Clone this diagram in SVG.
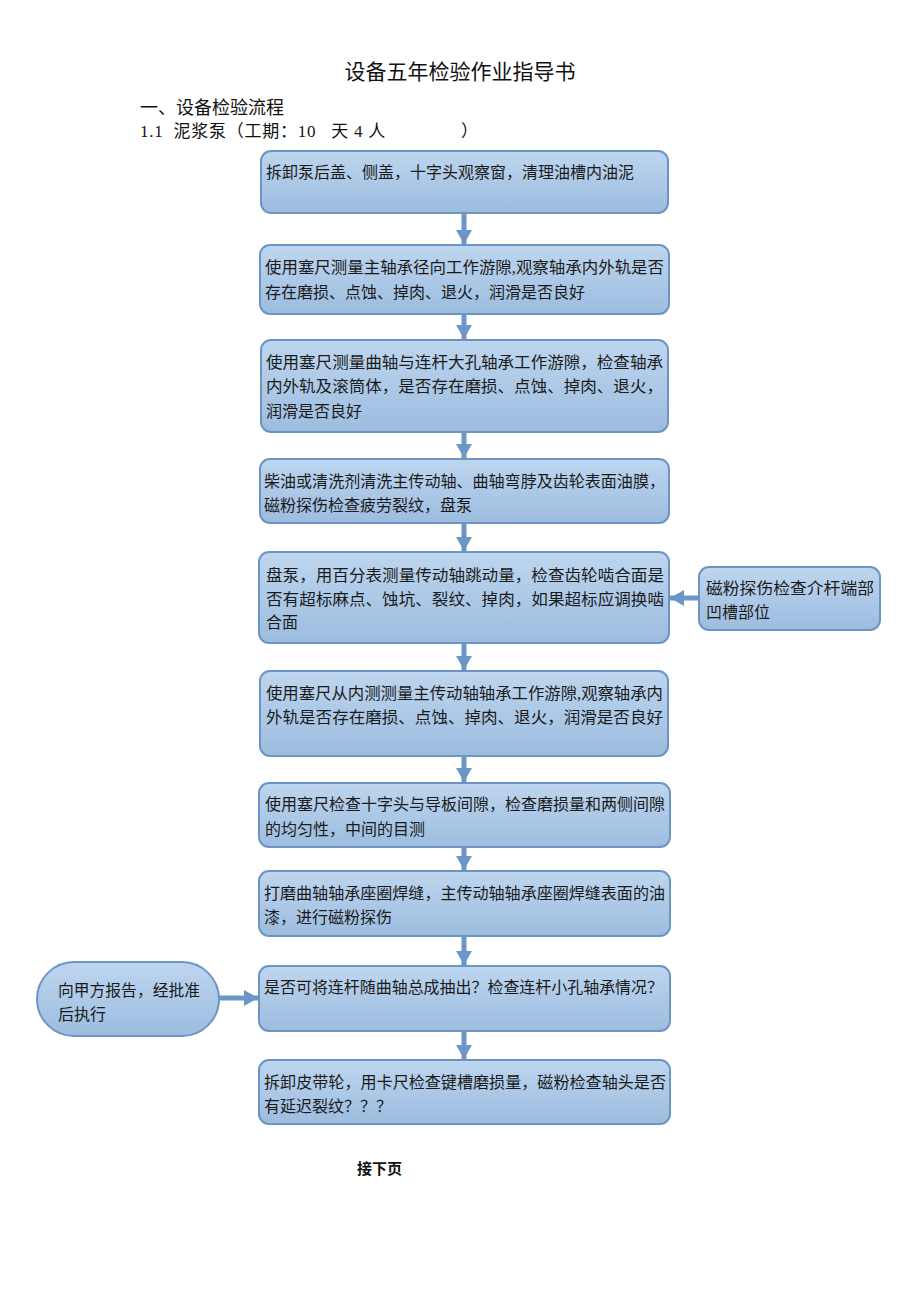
<svg xmlns="http://www.w3.org/2000/svg" width="920" height="1302" viewBox="0 0 920 1302">
<style>
.t{font-family:"Liberation Serif","Noto Sans CJK SC",serif;fill:#111;}
.bt{font-family:"Liberation Serif","Noto Sans CJK SC",serif;font-size:16px;fill:#1a1a1a;}
.box{fill:url(#g);stroke:#6e95c2;stroke-width:2;}
.con{stroke:#6b97c6;stroke-width:5;fill:none;}
</style>
<defs>
<linearGradient id="g" x1="0" y1="0" x2="0" y2="1">
<stop offset="0" stop-color="#bed6ef"/>
<stop offset="1" stop-color="#9cbcdf"/>
</linearGradient>
<marker id="ah" markerUnits="userSpaceOnUse" markerWidth="16" markerHeight="16" refX="14" refY="8" orient="auto">
<path d="M0,0 L14,8 L0,16 Z" fill="#6b97c6"/>
</marker>
</defs>
<rect width="920" height="1302" fill="#fff"/>
<text class="t" x="460" y="79" font-size="21" text-anchor="middle">设备五年检验作业指导书</text>
<text class="t" x="140" y="114" font-size="18">一、设备检验流程</text>
<text class="t" x="140" y="137" font-size="17" xml:space="preserve" textLength="338" lengthAdjust="spacing">1.1  泥浆泵（工期：10   天 4 人               ）</text>

<g id="connectors">
<line class="con" x1="464" y1="213" x2="464" y2="244" marker-end="url(#ah)"/>
<line class="con" x1="464" y1="314" x2="464" y2="339" marker-end="url(#ah)"/>
<line class="con" x1="464" y1="432" x2="464" y2="458" marker-end="url(#ah)"/>
<line class="con" x1="464" y1="523" x2="464" y2="551" marker-end="url(#ah)"/>
<line class="con" x1="464" y1="643" x2="464" y2="670" marker-end="url(#ah)"/>
<line class="con" x1="464" y1="756" x2="464" y2="782" marker-end="url(#ah)"/>
<line class="con" x1="464" y1="847" x2="464" y2="870" marker-end="url(#ah)"/>
<line class="con" x1="464" y1="936" x2="464" y2="965" marker-end="url(#ah)"/>
<line class="con" x1="464" y1="1031" x2="464" y2="1059" marker-end="url(#ah)"/>
<line class="con" x1="699" y1="598" x2="670" y2="598" marker-end="url(#ah)"/>
<line class="con" x1="219" y1="998" x2="258" y2="998" marker-end="url(#ah)"/>
</g>

<g id="n1"><rect class="box" x="261" y="151" width="407" height="62" rx="10"/>
<text class="bt" x="266" y="178">拆卸泵后盖、侧盖，十字头观察窗，清理油槽内油泥</text></g>

<g id="n2"><rect class="box" x="260" y="245" width="409" height="69" rx="10"/>
<text class="bt" x="265" y="273" textLength="399" lengthAdjust="spacingAndGlyphs">使用塞尺测量主轴承径向工作游隙,观察轴承内外轨是否</text>
<text class="bt" x="265" y="298">存在磨损、点蚀、掉肉、退火，润滑是否良好</text></g>

<g id="n3"><rect class="box" x="261" y="340" width="407" height="92" rx="10"/>
<text class="bt" x="266" y="368" textLength="397" lengthAdjust="spacingAndGlyphs">使用塞尺测量曲轴与连杆大孔轴承工作游隙，检查轴承</text>
<text class="bt" x="266" y="392" textLength="397" lengthAdjust="spacingAndGlyphs">内外轨及滚筒体，是否存在磨损、点蚀、掉肉、退火，</text>
<text class="bt" x="266" y="417">润滑是否良好</text></g>

<g id="n4"><rect class="box" x="260" y="459" width="409" height="64" rx="10"/>
<text class="bt" x="264" y="487" textLength="401" lengthAdjust="spacingAndGlyphs">柴油或清洗剂清洗主传动轴、曲轴弯脖及齿轮表面油膜，</text>
<text class="bt" x="264" y="511">磁粉探伤检查疲劳裂纹，盘泵</text></g>

<g id="n5"><rect class="box" x="259" y="552" width="410" height="91" rx="10"/>
<text class="bt" x="266" y="581" textLength="398" lengthAdjust="spacingAndGlyphs">盘泵，用百分表测量传动轴跳动量，检查齿轮啮合面是</text>
<text class="bt" x="266" y="605" textLength="398" lengthAdjust="spacingAndGlyphs">否有超标麻点、蚀坑、裂纹、掉肉，如果超标应调换啮</text>
<text class="bt" x="266" y="628">合面</text></g>

<g id="n5side"><rect class="box" x="699" y="567" width="181" height="63" rx="10"/>
<text class="bt" x="706" y="594" textLength="168" lengthAdjust="spacingAndGlyphs">磁粉探伤检查介杆端部</text>
<text class="bt" x="706" y="618">凹槽部位</text></g>

<g id="n6"><rect class="box" x="260" y="671" width="408" height="85" rx="10"/>
<text class="bt" x="266" y="699" textLength="397" lengthAdjust="spacingAndGlyphs">使用塞尺从内测测量主传动轴轴承工作游隙,观察轴承内</text>
<text class="bt" x="266" y="723" textLength="397" lengthAdjust="spacingAndGlyphs">外轨是否存在磨损、点蚀、掉肉、退火，润滑是否良好</text></g>

<g id="n7"><rect class="box" x="259" y="783" width="411" height="64" rx="10"/>
<text class="bt" x="265" y="810" textLength="400" lengthAdjust="spacingAndGlyphs">使用塞尺检查十字头与导板间隙，检查磨损量和两侧间隙</text>
<text class="bt" x="265" y="835">的均匀性，中间的目测</text></g>

<g id="n8"><rect class="box" x="259" y="871" width="411" height="65" rx="10"/>
<text class="bt" x="264" y="899" textLength="401" lengthAdjust="spacingAndGlyphs">打磨曲轴轴承座圈焊缝，主传动轴轴承座圈焊缝表面的油</text>
<text class="bt" x="264" y="923">漆，进行磁粉探伤</text></g>

<g id="n9"><rect class="box" x="259" y="966" width="411" height="65" rx="10"/>
<text class="bt" x="264" y="993" textLength="399" lengthAdjust="spacingAndGlyphs">是否可将连杆随曲轴总成抽出？检查连杆小孔轴承情况？</text></g>

<g id="n9side"><rect class="box" x="37" y="962" width="182" height="74" rx="37"/>
<text class="bt" x="58" y="996" textLength="142" lengthAdjust="spacingAndGlyphs">向甲方报告，经批准</text>
<text class="bt" x="58" y="1020">后执行</text></g>

<g id="n10"><rect class="box" x="259" y="1060" width="411" height="64" rx="10"/>
<text class="bt" x="264" y="1088" textLength="402" lengthAdjust="spacingAndGlyphs">拆卸皮带轮，用卡尺检查键槽磨损量，磁粉检查轴头是否</text>
<text class="bt" x="264" y="1112">有延迟裂纹？？？</text></g>

<text class="t" x="357" y="1174" font-size="15" font-weight="bold">接下页</text>
</svg>
